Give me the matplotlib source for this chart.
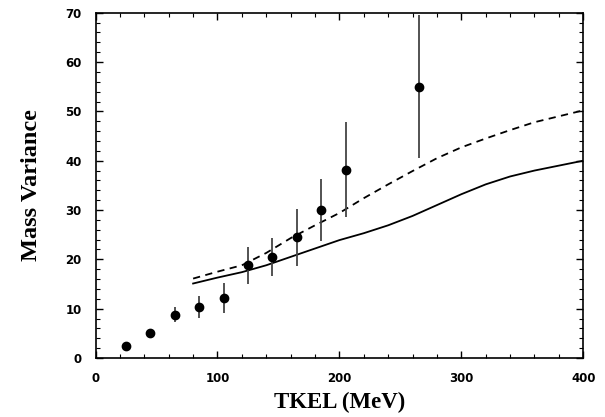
import matplotlib.pyplot as plt
from matplotlib.ticker import MultipleLocator

# measured points
tkel = [25, 45, 65, 85, 105, 125, 145, 165, 185, 205, 265]
var = [2.5, 5.1, 8.8, 10.3, 12.2, 18.8, 20.5, 24.5, 30.0, 38.2, 55.0]
err = [0.0, 0.0, 1.5, 2.2, 3.0, 3.8, 3.9, 5.8, 6.3, 9.7, 14.5]

# calculated curves
curve_x = [80, 100, 120, 140, 160, 180, 200, 220, 240, 260, 280, 300, 320, 340, 360, 380, 400]
solid_y = [15.1, 16.3, 17.4, 18.8, 20.5, 22.2, 23.9, 25.3, 26.9, 28.8, 31.0, 33.2, 35.2, 36.8, 38.0, 39.0, 40.0]
dashed_y = [16.1, 17.5, 18.8, 21.3, 24.3, 26.9, 29.4, 32.4, 35.2, 37.9, 40.5, 42.7, 44.5, 46.2, 47.8, 49.0, 50.2]

fig = plt.figure(figsize=(6.05, 4.17), dpi=100)
ax = fig.add_axes([0.158, 0.1415, 0.806, 0.828])

ax.plot(curve_x, solid_y, color='black', lw=1.3)
ax.plot(curve_x, dashed_y, color='black', lw=1.3, ls=(0, (4, 3)))
ax.errorbar(tkel, var, yerr=err, fmt='o', color='black', ms=6,
            ecolor='#444444', elinewidth=1.3, capsize=0, clip_on=True)

ax.set_xlim(0, 400)
ax.set_ylim(0, 70)
ax.xaxis.set_major_locator(MultipleLocator(100))
ax.xaxis.set_minor_locator(MultipleLocator(20))
ax.yaxis.set_major_locator(MultipleLocator(10))
ax.yaxis.set_minor_locator(MultipleLocator(2))
ax.tick_params(which='both', direction='in', top=True, right=True)
ax.tick_params(which='major', length=5, width=1)
ax.tick_params(which='minor', length=3, width=0.8)
ax.tick_params(axis='x', pad=10)
ax.tick_params(axis='y', pad=10)
for lab in ax.get_xticklabels() + ax.get_yticklabels():
    lab.set_fontsize(8.5)
    lab.set_fontweight('bold')
for s in ax.spines.values():
    s.set_linewidth(1.2)

ax.set_xlabel('TKEL (MeV)', family='Liberation Serif', fontsize=16.5, fontweight='bold', labelpad=5)
ax.set_ylabel('Mass Variance', family='Liberation Serif', fontsize=17.5, fontweight='bold', labelpad=17)

fig.savefig('out.png', dpi=100)
